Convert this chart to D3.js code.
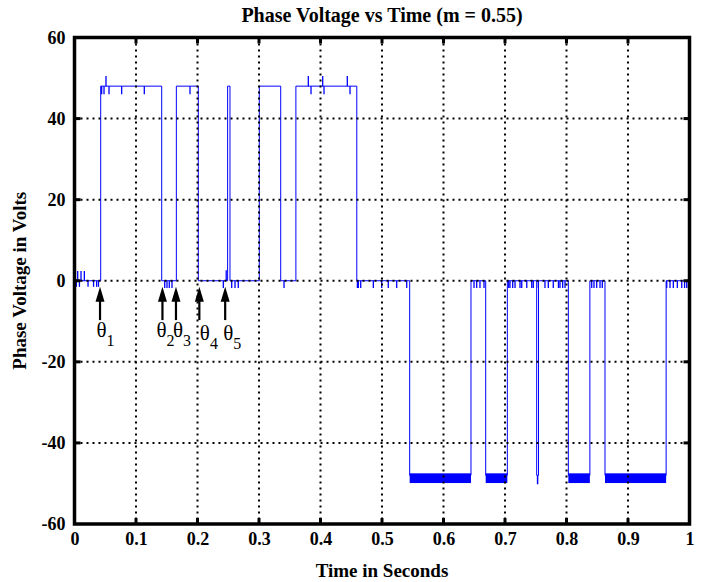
<!DOCTYPE html>
<html>
<head>
<meta charset="utf-8">
<script src="https://cdnjs.cloudflare.com/ajax/libs/d3/7.8.5/d3.min.js"></script>
<style>
  body { margin: 0; background: #fff; }
  text { font-family: "Liberation Serif", "Times New Roman", serif; }
</style>
</head>
<body>
<div id="chart"></div>
<script>
// pulse edges of the phase voltage (seconds) and their levels (volts)
var pulseStart = [0.0426, 0.1656, 0.2490, 0.3005, 0.3600, 0.5450, 0.6686, 0.7515, 0.8030, 0.8626];
var pulseEnd   = [0.1418, 0.2013, 0.2528, 0.3353, 0.4590, 0.6447, 0.7038, 0.7545, 0.8380, 0.9620];
var pulseLevel = [48, 48, 48, 48, 48, -48, -48, -48, -48, -48];

// ripple band on the negative pulses
var rippleTop = -47.5;
var rippleBottom = -49.9;
var narrowDip = -50.2; // the narrow negative pulse goes a bit deeper

// switching spikes on the zero level
var zeroSpikeTime = [0.003, 0.0052, 0.008, 0.0106, 0.016, 0.022, 0.031, 0.036, 0.039,
  0.1467, 0.1504, 0.1541, 0.1585,
  0.2420, 0.2467, 0.2556, 0.2610, 0.2663,
  0.3407,
  0.4600, 0.4615, 0.4654, 0.4859, 0.4995, 0.5102, 0.5239, 0.5402,
  0.6496, 0.6540, 0.6593, 0.6659,
  0.7060, 0.7081, 0.7125, 0.7163, 0.7244, 0.7272, 0.7354, 0.7435, 0.7460, 0.7542, 0.7650, 0.7704, 0.7785, 0.7869, 0.7894, 0.7938, 0.7976,
  0.8410, 0.8447, 0.8491, 0.8545, 0.8582,
  0.9630, 0.9683, 0.9737, 0.9802, 0.9874, 0.9920, 0.9955, 0.9985];
var zeroSpikeValue = [-1.5, 2.4, -1.5, 2.4, 2.4, -1.5, -1.5, -1.5, -1.5,
  -1.8, -1.8, -1.8, -1.8,
  -1.8, 2.6, -1.8, -1.8, -1.8,
  -1.8,
  -1.8, -1.8, -1.8, -1.8, -1.8, -1.8, -1.8, -1.8,
  -1.8, -1.8, -1.8, -1.8,
  -1.8, -1.8, -1.8, -1.8, -1.8, -1.8, -1.8, -1.8, -1.8, -1.8, -1.8, -1.8, -1.8, -1.8, -1.8, -1.8, -1.8,
  -1.8, -1.8, -1.8, -1.8, -1.8,
  -1.8, -1.8, -1.8, -1.8, -1.8, -1.8, -1.8, -1.8];

// spikes on the +48 V level
var topSpikeTime  = [0.0442, 0.0480, 0.0512, 0.0561, 0.0767, 0.1135, 0.1878, 0.3802, 0.3846, 0.4036, 0.4057, 0.4436, 0.4480];
var topSpikeValue = [46, 46, 50.5, 46, 46, 46, 46, 50.5, 46, 50.5, 46, 50.5, 46];

// the switching angles
var thetaTime = [0.0415, 0.143, 0.165, 0.203, 0.245];
var thetaSub = ["1", "2", "3", "4", "5"];
var arrowTip = -1.5;
var arrowTail = -9.7;

var xTicks = [0, 0.1, 0.2, 0.3, 0.4, 0.5, 0.6, 0.7, 0.8, 0.9, 1];
var xTickLabels = ["0", "0.1", "0.2", "0.3", "0.4", "0.5", "0.6", "0.7", "0.8", "0.9", "1"];
var yTicks = [-60, -40, -20, 0, 20, 40, 60];
var yTickLabels = ["-60", "-40", "-20", "0", "20", "40", "60"];

var W = 705, H = 582;
var margin = {top: 37.5, right: 15.5, bottom: 58, left: 74.5};
var innerW = W - margin.left - margin.right,
    innerH = H - margin.top - margin.bottom;

var svg = d3.select("#chart").append("svg")
  .attr("width", W)
  .attr("height", H);

var g = svg.append("g")
  .attr("transform", "translate(" + margin.left + "," + margin.top + ")");

var x = d3.scaleLinear().domain([0, 1]).range([0, innerW]);
var y = d3.scaleLinear().domain([-60, 60]).range([innerH, 0]);

var blue = "#0000ff";

// ripple bands on the negative pulses (not on the narrow one)
var pulses = pulseStart.map(function(s, i) { return {s: s, e: pulseEnd[i], L: pulseLevel[i]}; });
g.selectAll(".ripple")
  .data(pulses.filter(function(p) { return p.L < 0 && p.e - p.s > 0.01; }))
  .enter().append("rect")
    .attr("class", "ripple")
    .attr("x", function(d) { return x(d.s); })
    .attr("width", function(d) { return x(d.e) - x(d.s); })
    .attr("y", y(rippleTop))
    .attr("height", y(rippleBottom) - y(rippleTop))
    .style("fill", blue);

// step waveform
var pts = [[0, 0]];
pulses.forEach(function(p) {
  pts.push([p.s, 0], [p.s, p.L], [p.e, p.L], [p.e, 0]);
});
pts.push([1, 0]);
var line = d3.line().x(function(d) { return x(d[0]); }).y(function(d) { return y(d[1]); });
g.append("path")
  .attr("d", line(pts))
  .style("fill", "none")
  .style("stroke", blue)
  .style("stroke-width", 1);

// deep dip of the narrow negative pulse
g.append("line")
  .attr("x1", x(0.7530)).attr("x2", x(0.7530))
  .attr("y1", y(-48)).attr("y2", y(narrowDip))
  .style("stroke", blue).style("stroke-width", 1.5);

// spikes
var spikes = zeroSpikeTime.map(function(t, i) { return {t: t, base: 0, v: zeroSpikeValue[i]}; })
  .concat(topSpikeTime.map(function(t, i) { return {t: t, base: 48, v: topSpikeValue[i]}; }));
g.selectAll(".spike")
  .data(spikes)
  .enter().append("line")
    .attr("class", "spike")
    .attr("x1", function(d) { return x(d.t); })
    .attr("x2", function(d) { return x(d.t); })
    .attr("y1", function(d) { return y(d.base); })
    .attr("y2", function(d) { return y(d.v); })
    .style("stroke", blue)
    .style("stroke-width", 1.3);

// dotted grid
g.selectAll(".gx")
  .data(xTicks.slice(1, -1))
  .enter().append("line")
    .attr("class", "gx")
    .attr("x1", x).attr("x2", x)
    .attr("y1", 0).attr("y2", innerH)
    .style("stroke", "#000").style("stroke-width", 2)
    .style("stroke-dasharray", "2,4");
g.selectAll(".gy")
  .data(yTicks.slice(1, -1))
  .enter().append("line")
    .attr("class", "gy")
    .attr("x1", 0).attr("x2", innerW)
    .attr("y1", y).attr("y2", y)
    .style("stroke", "#000").style("stroke-width", 2)
    .style("stroke-dasharray", "2,4");

// axes: labels from d3 axes, ticks drawn inward on all four sides
var xAxis = d3.axisBottom(x).tickValues(xTicks).tickSize(0).tickPadding(10)
  .tickFormat(function(d, i) { return xTickLabels[i]; });
var yAxis = d3.axisLeft(y).tickValues(yTicks).tickSize(0).tickPadding(10)
  .tickFormat(function(d, i) { return yTickLabels[i]; });

var gx = g.append("g").attr("transform", "translate(0," + innerH + ")").call(xAxis);
var gy = g.append("g").call(yAxis);
[gx, gy].forEach(function(a) {
  a.select(".domain").remove();
  a.selectAll("text")
    .style("font-family", "'Liberation Serif', serif")
    .style("font-weight", "bold")
    .style("font-size", "18px")
    .style("fill", "#000");
});
gx.selectAll("text").attr("dy", "0.71em").attr("y", 8);
gy.selectAll("text").attr("x", -9);

var tickLen = 6;
var tk = g.append("g").style("stroke", "#000").style("stroke-width", 3);
xTicks.slice(1, -1).forEach(function(t) {
  tk.append("line").attr("x1", x(t)).attr("x2", x(t)).attr("y1", innerH).attr("y2", innerH - tickLen);
  tk.append("line").attr("x1", x(t)).attr("x2", x(t)).attr("y1", 0).attr("y2", tickLen);
});
yTicks.slice(1, -1).forEach(function(v) {
  tk.append("line").attr("x1", 0).attr("x2", tickLen).attr("y1", y(v)).attr("y2", y(v));
  tk.append("line").attr("x1", innerW).attr("x2", innerW - tickLen).attr("y1", y(v)).attr("y2", y(v));
});

g.append("rect")
  .attr("width", innerW).attr("height", innerH)
  .style("fill", "none").style("stroke", "#000").style("stroke-width", 3.5);

// theta arrows
var thetaDx = [-3.5, -6, -3, 0.5, -2];
var thetaDy = [0, 0, 0, 3, 3];
thetaTime.forEach(function(t, i) {
  var xt = x(t), yTip = y(arrowTip), yTail = y(arrowTail);
  g.append("line")
    .attr("x1", xt).attr("x2", xt)
    .attr("y1", yTip + 12).attr("y2", yTail)
    .style("stroke", "#000").style("stroke-width", 2.2);
  g.append("path")
    .attr("d", "M" + xt + "," + yTip + "L" + (xt - 4.5) + "," + (yTip + 15) + "L" + (xt + 4.5) + "," + (yTip + 15) + "Z")
    .style("fill", "#000");
  var lbl = g.append("text")
    .attr("x", xt + thetaDx[i])
    .attr("y", yTail + 17 + thetaDy[i])
    .style("font-size", "21px")
    .text("θ");
  lbl.append("tspan")
    .attr("dy", 9)
    .style("font-size", "16px")
    .text(thetaSub[i]);
});

// title and axis labels
svg.append("text")
  .attr("x", margin.left + innerW / 2)
  .attr("y", 22)
  .attr("text-anchor", "middle")
  .style("font-weight", "bold")
  .style("font-size", "20px")
  .text("Phase Voltage vs Time (m = 0.55)");

svg.append("text")
  .attr("x", margin.left + innerW / 2)
  .attr("y", 577)
  .attr("text-anchor", "middle")
  .style("font-weight", "bold")
  .style("font-size", "19px")
  .text("Time in Seconds");

svg.append("text")
  .attr("transform", "translate(26," + (margin.top + innerH / 2) + ") rotate(-90)")
  .attr("text-anchor", "middle")
  .style("font-weight", "bold")
  .style("font-size", "19px")
  .text("Phase Voltage in Volts");
</script>
</body>
</html>
